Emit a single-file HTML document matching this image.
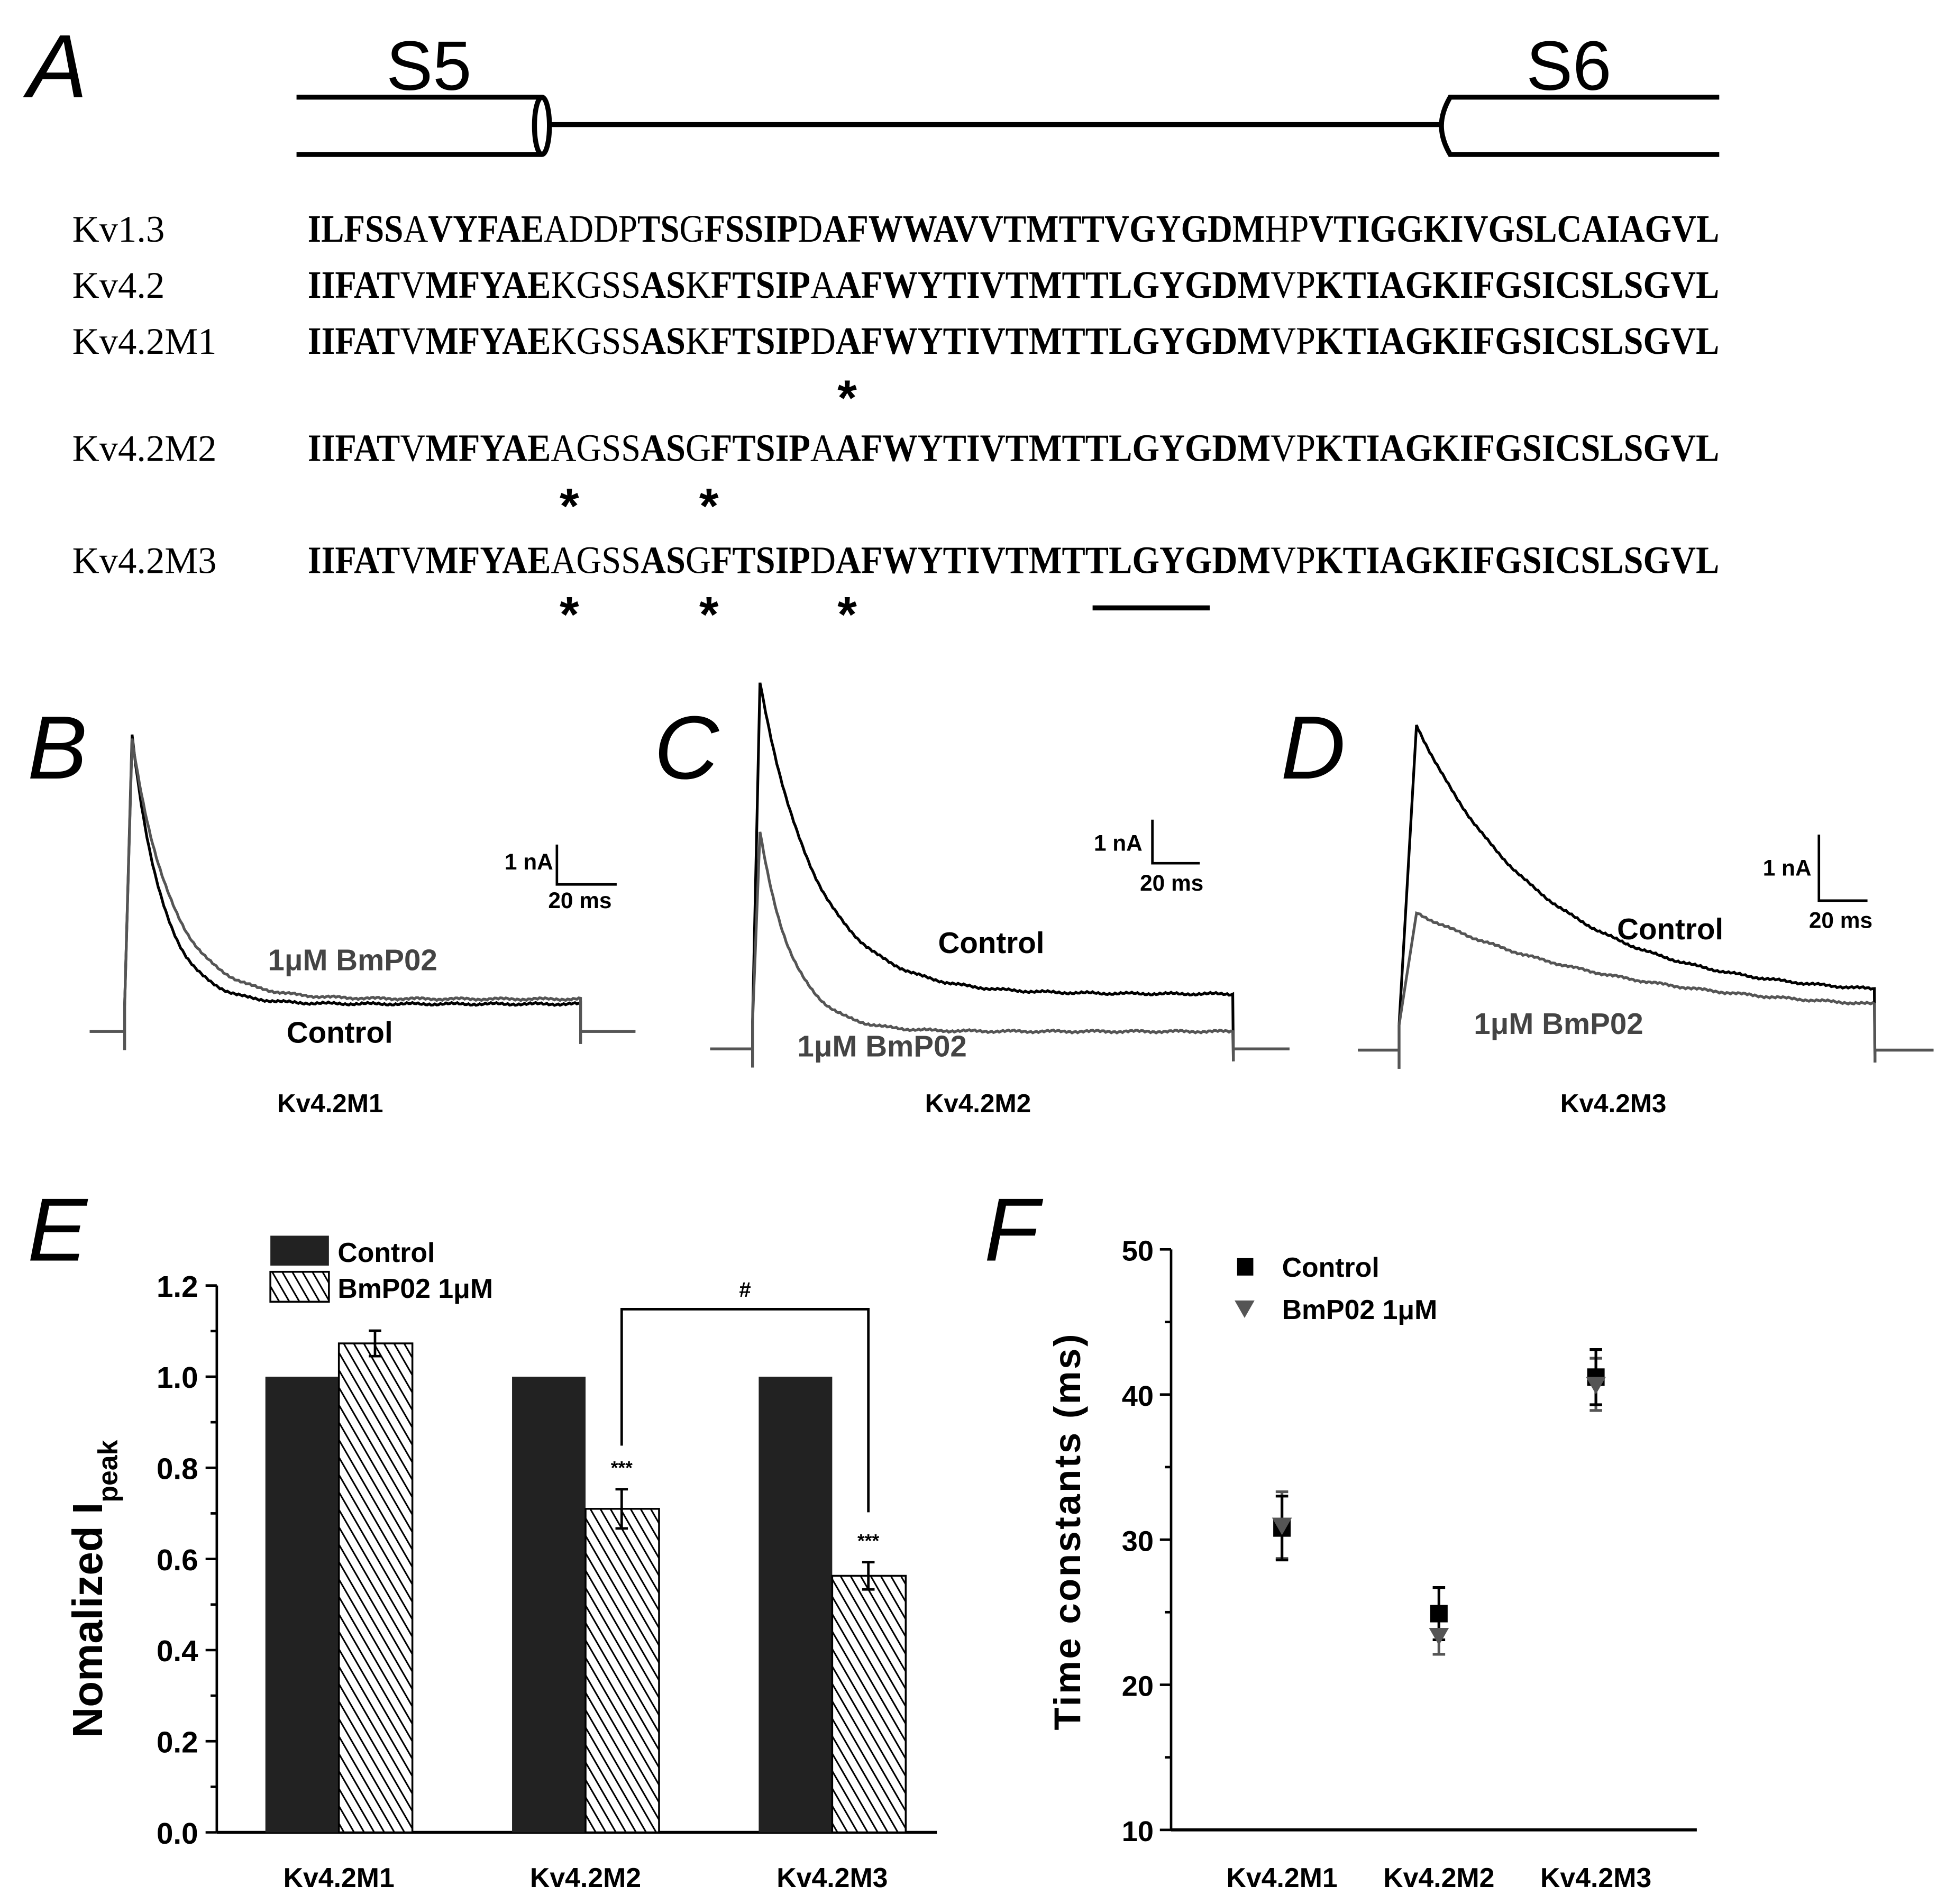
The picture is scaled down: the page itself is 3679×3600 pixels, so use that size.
<!DOCTYPE html>
<html><head><meta charset="utf-8"><style>html,body{margin:0;padding:0;background:#fff}svg{display:block}</style></head>
<body>
<svg id="fig" xmlns="http://www.w3.org/2000/svg" width="3679" height="3600" viewBox="0 0 1562 1528.5" font-family="Liberation Sans, Arial, sans-serif">
<rect width="1562" height="1528.5" fill="#fff"/>
<g>
<text x="22" y="78" font-size="72" font-style="italic">A</text>
<g fill="none" stroke="#000" stroke-width="4">
<line x1="238" y1="78" x2="435" y2="78"/><line x1="238" y1="124" x2="435" y2="124"/>
<ellipse cx="435" cy="101" rx="6" ry="23"/>
<line x1="441" y1="100" x2="1157" y2="100"/>
<path d="M1380 78 L1164 78 Q1157 90 1157 101 Q1157 112 1164 124 L1380 124"/>
</g>
<text x="310" y="72" font-size="56">S5</text>
<text x="1225" y="72" font-size="56">S6</text>
<g font-family="Liberation Serif, serif" font-size="30">
<text x="58" y="194">Kv1.3</text><text x="58" y="239">Kv4.2</text><text x="58" y="284">Kv4.2M1</text><text x="58" y="370">Kv4.2M2</text><text x="58" y="460">Kv4.2M3</text>
</g>
<g font-family="Liberation Serif, serif" font-size="31" font-weight="bold">
<text x="247" y="194" textLength="1133" lengthAdjust="spacingAndGlyphs">ILFSS<tspan font-weight="normal">A</tspan>VYFAE<tspan font-weight="normal">ADDP</tspan>TS<tspan font-weight="normal">G</tspan>FSSIP<tspan font-weight="normal">D</tspan>AFWWAVVTMTTVGYGDM<tspan font-weight="normal">HP</tspan>VTIGGKIVGSLCAIAGVL</text>
<text x="247" y="239" textLength="1133" lengthAdjust="spacingAndGlyphs">IIFAT<tspan font-weight="normal">V</tspan>MFYAE<tspan font-weight="normal">KGSS</tspan>AS<tspan font-weight="normal">K</tspan>FTSIP<tspan font-weight="normal">A</tspan>AFWYTIVTMTTLGYGDM<tspan font-weight="normal">VP</tspan>KTIAGKIFGSICSLSGVL</text>
<text x="247" y="284" textLength="1133" lengthAdjust="spacingAndGlyphs">IIFAT<tspan font-weight="normal">V</tspan>MFYAE<tspan font-weight="normal">KGSS</tspan>AS<tspan font-weight="normal">K</tspan>FTSIP<tspan font-weight="normal">D</tspan>AFWYTIVTMTTLGYGDM<tspan font-weight="normal">VP</tspan>KTIAGKIFGSICSLSGVL</text>
<text x="247" y="370" textLength="1133" lengthAdjust="spacingAndGlyphs">IIFAT<tspan font-weight="normal">V</tspan>MFYAE<tspan font-weight="normal">AGSS</tspan>AS<tspan font-weight="normal">G</tspan>FTSIP<tspan font-weight="normal">A</tspan>AFWYTIVTMTTLGYGDM<tspan font-weight="normal">VP</tspan>KTIAGKIFGSICSLSGVL</text>
<text x="247" y="460" textLength="1133" lengthAdjust="spacingAndGlyphs">IIFAT<tspan font-weight="normal">V</tspan>MFYAE<tspan font-weight="normal">AGSS</tspan>AS<tspan font-weight="normal">G</tspan>FTSIP<tspan font-weight="normal">D</tspan>AFWYTIVTMTTLGYGDM<tspan font-weight="normal">VP</tspan>KTIAGKIFGSICSLSGVL</text>
</g>
<g font-size="40" font-weight="bold" text-anchor="middle">
<text x="680" y="333">*</text>
<text x="457" y="420">*</text><text x="569" y="420">*</text>
<text x="457" y="507">*</text><text x="569" y="507">*</text><text x="680" y="507">*</text>
</g>
<line x1="877" y1="488" x2="971" y2="488" stroke="#000" stroke-width="4"/>
</g>
<g id="traces">
<text x="22" y="625" font-size="72" font-style="italic">B</text>
<text x="525" y="625" font-size="72" font-style="italic">C</text>
<text x="1028" y="625" font-size="72" font-style="italic">D</text>
<g font-weight="bold" font-size="21" text-anchor="middle">
<text x="265" y="893">Kv4.2M1</text><text x="785" y="893">Kv4.2M2</text><text x="1295" y="893">Kv4.2M3</text>
</g>
<g font-weight="bold" font-size="24">
<text x="215" y="779" fill="#444">1μM BmP02</text><text x="230" y="837">Control</text>
<text x="753" y="765">Control</text><text x="640" y="848" fill="#444">1μM BmP02</text>
<text x="1298" y="754">Control</text><text x="1183" y="830" fill="#444">1μM BmP02</text>
</g>
<g font-weight="bold" font-size="18" fill="#000">
<text x="405" y="698">1 nA</text><text x="440" y="729">20 ms</text>
<text x="878" y="683">1 nA</text><text x="915" y="715">20 ms</text>
<text x="1415" y="703">1 nA</text><text x="1452" y="745">20 ms</text>
</g>
<g stroke="#000" stroke-width="2" fill="none">
<path d="M447 678 V710 H495"/><path d="M925 658 V693 H963"/><path d="M1460 670 V723 H1499"/>
</g>
</g>
<g id="panelE">
<text x="22" y="1012" font-size="72" font-style="italic">E</text>
<defs><pattern id="hatch" width="7" height="7" patternUnits="userSpaceOnUse" patternTransform="rotate(-30)"><rect width="7" height="7" fill="#fff"/><line x1="0" y1="0" x2="0" y2="7" stroke="#000" stroke-width="2.6"/></pattern></defs>
<text transform="translate(82,1395) rotate(-90)" font-size="34" font-weight="bold">Nomalized I<tspan font-size="22" dy="12">peak</tspan></text>
</g>
<g id="panelF">
<text x="790" y="1012" font-size="72" font-style="italic">F</text>
</g>
<script>
var NS="http://www.w3.org/2000/svg";
function mk(p,t,a){var e=document.createElementNS(NS,t);for(var k in a)e.setAttribute(k,a[k]);p.appendChild(e);return e;}
// ---- traces data
var traceNames=["b-control","b-bmp02","c-control","c-bmp02","d-control","d-bmp02"];
var tracePeaks=[590,594,548,668,582,733];
var traceEnds=[806,802,798,828,800,815];
var traceTau=[0.07,0.09,0.12,0.07,0.28,0.45];
var traceColors=["#000","#555","#000","#555","#000","#555"];
var traceFrames=[[72,100,466,510,828],[72,100,466,510,828],[570,604,990,1035,842],[570,604,990,1035,842],[1090,1123,1505,1552,843],[1090,1123,1505,1552,843]];
var tg=document.getElementById("traces");
for(var i=0;i<6;i++){
 var f=traceFrames[i],x0=f[0],xs=f[1],xe=f[2],x1=f[3],b=f[4],pk=tracePeaks[i],en=traceEnds[i],tau=traceTau[i];
 var d="M"+x0+" "+b+" L"+xs+" "+b+" L"+xs+" "+(b+15)+" L"+xs+" "+(b-20);
 var xp=xs+(i>=4?14:6);
 d+=" L"+xp+" "+pk;
 for(var x=xp;x<=xe;x+=1.5){var t=(x-xp)/(xe-xp);var y=en+(pk-en)*Math.exp(-t/tau)+1.2*Math.sin(x*2.7+i)*Math.cos(x*1.3);d+=" L"+x.toFixed(1)+" "+y.toFixed(1);}
 d+=" L"+xe+" "+(b+10)+" L"+xe+" "+b+" L"+x1+" "+b;
 var p=mk(tg,"path",{d:d,fill:"none",stroke:traceColors[i],"stroke-width":2.2});
 
 
}
// ---- panel E
var eCats=["Kv4.2M1","Kv4.2M2","Kv4.2M3"];
var eControl=[1.0,1.0,1.0];
var eBmp=[1.073,0.71,0.563];
var eBmpErr=[0.028,0.043,0.03];
var eTicks=[0.0,0.2,0.4,0.6,0.8,1.0,1.2];
var E=document.getElementById("panelE");
var eAx=174,eBase=1471,eTop=1032;
function ey(v){return eBase-v*((eBase-eTop)/1.2);}
var eLeft=[213,411,609],bw=59;
mk(E,"line",{x1:eAx,y1:eBase,x2:752,y2:eBase,stroke:"#000","stroke-width":2.4});
mk(E,"line",{x1:eAx,y1:eBase,x2:eAx,y2:ey(1.2),stroke:"#000","stroke-width":2});
eTicks.forEach(function(v){mk(E,"line",{x1:eAx-9,y1:ey(v),x2:eAx,y2:ey(v),stroke:"#000","stroke-width":2});
 if(v<1.2)mk(E,"line",{x1:eAx-5,y1:ey(v+0.1),x2:eAx,y2:ey(v+0.1),stroke:"#000","stroke-width":2});
 var t=mk(E,"text",{x:eAx-15,y:ey(v)+9,"text-anchor":"end","font-size":24,"font-weight":"bold"});t.textContent=v.toFixed(1);});
eCats.forEach(function(c,i){
 var r=mk(E,"rect",{x:eLeft[i],y:ey(eControl[i]),width:bw,height:eBase-ey(eControl[i]),fill:"#222"});
 
 
 var h=mk(E,"rect",{x:eLeft[i]+bw,y:ey(eBmp[i]),width:bw,height:eBase-ey(eBmp[i]),fill:"url(#hatch)",stroke:"#000","stroke-width":1.5});
 
 
 var cx=eLeft[i]+bw+29,lo=ey(eBmp[i]-eBmpErr[i]),hi=ey(eBmp[i]+eBmpErr[i]);
 mk(E,"path",{d:"M"+cx+" "+lo+"V"+hi+"M"+(cx-5)+" "+lo+"h10M"+(cx-5)+" "+hi+"h10",stroke:"#000","stroke-width":2,fill:"none"});
 if(i>0){var s=mk(E,"text",{x:cx,y:hi-12,"text-anchor":"middle","font-size":15,"font-weight":"bold"});s.textContent="***";}
 var t=mk(E,"text",{x:eLeft[i]+bw,y:1515,"text-anchor":"middle","font-size":22,"font-weight":"bold"});t.textContent=c;
});
var bx1=eLeft[1]+bw+29,bx2=eLeft[2]+bw+29;
mk(E,"path",{d:"M"+bx1+" "+(ey(eBmp[1]+eBmpErr[1])-35)+"V1051H"+bx2+"V"+(ey(eBmp[2]+eBmpErr[2])-40),stroke:"#000","stroke-width":2,fill:"none"});
var hs=mk(E,"text",{x:(bx1+bx2)/2,y:1041,"text-anchor":"middle","font-size":17,"font-weight":"bold"});hs.textContent="#";
mk(E,"rect",{x:217,y:992,width:47,height:24,fill:"#222"});
mk(E,"rect",{x:217,y:1021,width:47,height:24,fill:"url(#hatch)",stroke:"#000","stroke-width":1.5});
var l1=mk(E,"text",{x:271,y:1013,"font-size":22,"font-weight":"bold"});l1.textContent="Control";
var l2=mk(E,"text",{x:271,y:1042,"font-size":22,"font-weight":"bold"});l2.textContent="BmP02 1μM";
// ---- panel F
var fCats=["Kv4.2M1","Kv4.2M2","Kv4.2M3"];
var fControl=[30.8,24.9,41.2];
var fControlErr=[2.2,1.8,1.9];
var fBmp=[31.0,23.4,40.7];
var fBmpErr=[2.3,1.3,1.8];
var fTicks=[10,20,30,40,50];
var F=document.getElementById("panelF");
var fAx=940,fBase=1469,fTop=1003;
function fy(v){return fBase-(v-10)*((fBase-fTop)/40);}
var fx=[1029,1155,1281];
mk(F,"line",{x1:fAx,y1:fBase,x2:1362,y2:fBase,stroke:"#000","stroke-width":2.4});
mk(F,"line",{x1:fAx,y1:fBase,x2:fAx,y2:fy(50),stroke:"#000","stroke-width":2});
fTicks.forEach(function(v){mk(F,"line",{x1:fAx-9,y1:fy(v),x2:fAx,y2:fy(v),stroke:"#000","stroke-width":2});
 if(v<50)mk(F,"line",{x1:fAx-5,y1:fy(v+5),x2:fAx,y2:fy(v+5),stroke:"#000","stroke-width":2});
 var t=mk(F,"text",{x:fAx-14,y:fy(v)+9,"text-anchor":"end","font-size":23,"font-weight":"bold"});t.textContent=v;});
fCats.forEach(function(c,i){
 var x=fx[i];
 [[fBmp[i],fBmpErr[i],"#555"],[fControl[i],fControlErr[i],"#000"]].forEach(function(s){
  var lo=fy(s[0]-s[1]),hi=fy(s[0]+s[1]);
  mk(F,"path",{d:"M"+x+" "+lo+"V"+hi+"M"+(x-5)+" "+lo+"h10M"+(x-5)+" "+hi+"h10",stroke:s[2],"stroke-width":2.2,fill:"none"});
 });
 var sq=mk(F,"rect",{x:x-7,y:fy(fControl[i])-7,width:14,height:14,fill:"#000"});
 
 
 var yy=fy(fBmp[i]);
 var tr=mk(F,"path",{d:"M"+(x-8)+" "+(yy-6)+"h16l-8 14z",fill:"#555"});
 
 
 var t=mk(F,"text",{x:x,y:1515,"text-anchor":"middle","font-size":22,"font-weight":"bold"});t.textContent=c;
});
mk(F,"rect",{x:993,y:1010,width:13,height:14,fill:"#000"});
mk(F,"path",{d:"M991 1044h16l-8 14z",fill:"#555"});
var m1=mk(F,"text",{x:1029,y:1025,"font-size":22,"font-weight":"bold"});m1.textContent="Control";
var m2=mk(F,"text",{x:1029,y:1059,"font-size":22,"font-weight":"bold"});m2.textContent="BmP02 1μM";
var fl=mk(F,"text",{transform:"translate(867,1389) rotate(-90)","font-size":30,"font-weight":"bold",textLength:318});fl.textContent="Time constants (ms)";
</script>
</svg>
</body></html>
